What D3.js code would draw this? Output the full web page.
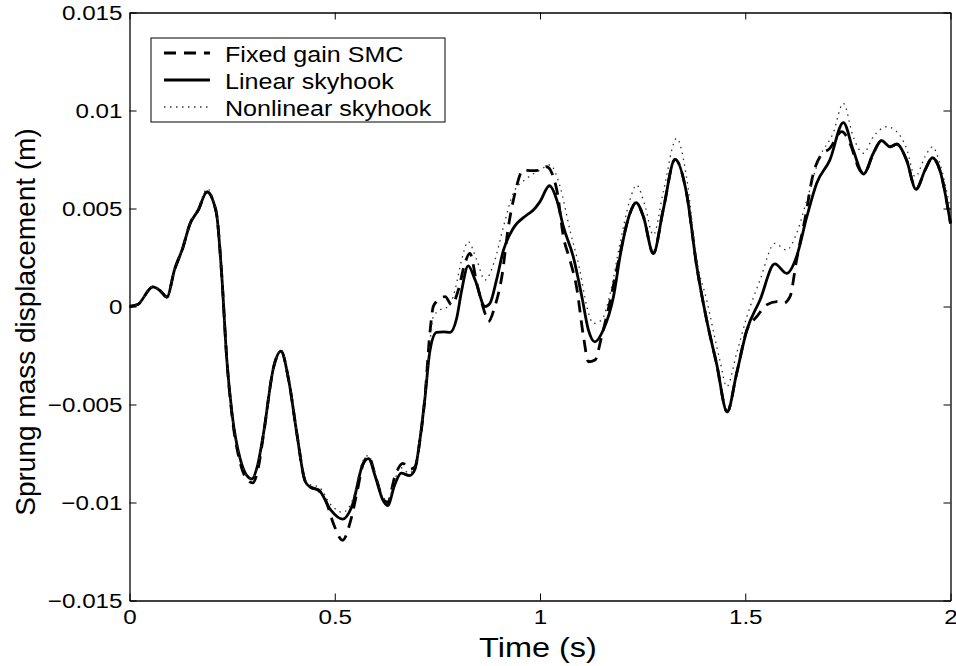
<!DOCTYPE html>
<html>
<head>
<meta charset="utf-8">
<script src="https://cdn.jsdelivr.net/npm/d3@7"></script>
<style>
  html, body { margin: 0; padding: 0; background: #fff; }
  svg { display: block; }
  text { font-family: "Liberation Sans", Arial, Helvetica, sans-serif; fill: #000; }
</style>
</head>
<body>
<svg id="chart" width="956" height="666"></svg>
<script>
// ---------------- data ----------------
const seriesNames = ["Fixed gain SMC", "Linear skyhook", "Nonlinear skyhook"];

const tLinear = [0, 0.02, 0.057, 0.075, 0.091, 0.11, 0.13, 0.147, 0.167, 0.189, 0.205, 0.213, 0.225, 0.237, 0.25, 0.27, 0.285, 0.298,
  0.312, 0.326, 0.351, 0.369, 0.388, 0.408, 0.428, 0.441, 0.461, 0.49, 0.519, 0.543, 0.568, 0.582, 0.6, 0.617, 0.629, 0.646,
  0.662, 0.682, 0.695, 0.707, 0.719, 0.732, 0.748, 0.765, 0.781, 0.797, 0.809, 0.825, 0.842, 0.866, 0.878, 0.894, 0.911,
  0.935, 0.968, 0.984, 1.0, 1.023, 1.041, 1.057, 1.081, 1.102, 1.118, 1.134, 1.154, 1.179, 1.197, 1.219, 1.234, 1.252,
  1.276, 1.3, 1.329, 1.357, 1.382, 1.406, 1.43, 1.456, 1.479, 1.504, 1.536, 1.572, 1.601, 1.625, 1.65, 1.674, 1.706, 1.739,
  1.763, 1.788, 1.812, 1.832, 1.853, 1.869, 1.893, 1.916, 1.938, 1.956, 1.974, 2.0];
const yLinear = [0, 0.0001, 0.001, 0.0008, 0.00048, 0.0019, 0.003, 0.0042, 0.0049, 0.00585, 0.0053, 0.0046, 0.0015, -0.0027, -0.0055, -0.0078, -0.0086, -0.0088,
  -0.0081, -0.00653, -0.0031, -0.00228, -0.00378, -0.00653, -0.00893, -0.00922, -0.00936, -0.01038, -0.01085, -0.01013, -0.00807, -0.00776, -0.00876, -0.00987, -0.01016, -0.0091,
  -0.0085, -0.00863, -0.00833, -0.00687, -0.00481, -0.00224, -0.00132, -0.00129, -0.00132, -0.0006, 0.0008, 0.00207, 0.00135, 0.0, 0.00016, 0.00135, 0.00288,
  0.00399, 0.00467, 0.00492, 0.00535, 0.00616, 0.00543, 0.00407, 0.00254, 0.0005, -0.0012, -0.0018, -0.0012, 0.0005, 0.0028, 0.00475, 0.0053, 0.00458,
  0.00271, 0.00492, 0.00751, 0.00578, 0.00203, -0.00069, -0.0029, -0.00537, -0.00341, -0.0012, 0.00033, 0.00217, 0.00169, 0.00254, 0.00458, 0.00629, 0.00747, 0.00938,
  0.00798, 0.00676, 0.00782, 0.00846, 0.00815, 0.00828, 0.00747, 0.00598, 0.00696, 0.00759, 0.00696, 0.00424];

const tFixed = [0, 0.02, 0.057, 0.075, 0.091, 0.11, 0.13, 0.147, 0.167, 0.189, 0.205, 0.213, 0.225, 0.237, 0.25, 0.27, 0.285, 0.3,
  0.314, 0.326, 0.351, 0.369, 0.388, 0.408, 0.428, 0.441, 0.461, 0.478, 0.498, 0.519, 0.539, 0.555, 0.568, 0.582, 0.6, 0.617, 0.629, 0.646,
  0.666, 0.682, 0.695, 0.707, 0.719, 0.732, 0.74, 0.748, 0.769, 0.785, 0.801, 0.817, 0.829, 0.846, 0.866, 0.874, 0.89, 0.907,
  0.923, 0.939, 0.959, 0.98, 1.0, 1.016, 1.041, 1.057, 1.073, 1.089, 1.106, 1.118, 1.134, 1.15, 1.17, 1.19, 1.219, 1.234, 1.252,
  1.276, 1.3, 1.329, 1.357, 1.382, 1.406, 1.43, 1.456, 1.479, 1.504, 1.528, 1.552, 1.577, 1.593, 1.609, 1.625, 1.645, 1.666, 1.682, 1.706, 1.735,
  1.755, 1.779, 1.79, 1.812, 1.832, 1.853, 1.869, 1.893, 1.916, 1.938, 1.956, 1.974, 2.0];
const yFixed = [0, 0.0001, 0.001, 0.0008, 0.00048, 0.0019, 0.003, 0.0042, 0.0049, 0.00585, 0.0053, 0.0046, 0.0015, -0.0027, -0.0056, -0.008, -0.0088, -0.0090,
  -0.0082, -0.0066, -0.0031, -0.00228, -0.00378, -0.00653, -0.0089, -0.0092, -0.0094, -0.0099, -0.01115, -0.01193, -0.0109, -0.0094, -0.0081, -0.00765, -0.0087, -0.0098, -0.0100, -0.0087,
  -0.0080, -0.0083, -0.0082, -0.0069, -0.0048, -0.0013, 0.0, 0.00025, 0.0005, 0.00008, 0.00084, 0.0022, 0.00271, 0.00118, -0.00035, -0.00078, 0.0, 0.00152,
  0.00407, 0.00578, 0.00696, 0.00693, 0.00696, 0.00713, 0.00594, 0.00356, 0.00237, 0.001, -0.00154, -0.00282, -0.00273, -0.00154, 0.0002, 0.0022, 0.00475, 0.0053, 0.00458,
  0.00271, 0.00492, 0.00751, 0.00578, 0.00203, -0.00069, -0.0029, -0.00537, -0.00341, -0.0012, -0.00052, 0.00008, 0.00025, 0.00016, 0.0005, 0.00237, 0.00441, 0.0068, 0.00764, 0.00807, 0.00892,
  0.00833, 0.00696, 0.0068, 0.00782, 0.00846, 0.00815, 0.00828, 0.00747, 0.00598, 0.00696, 0.00759, 0.00696, 0.00424];

const tNonlinear = [0, 0.02, 0.057, 0.075, 0.091, 0.11, 0.13, 0.147, 0.167, 0.189, 0.205, 0.213, 0.225, 0.237, 0.25, 0.27, 0.285, 0.298,
  0.312, 0.326, 0.351, 0.369, 0.388, 0.408, 0.428, 0.441, 0.461, 0.49, 0.519, 0.543, 0.568, 0.582, 0.6, 0.617, 0.629, 0.646,
  0.658, 0.682, 0.695, 0.707, 0.719, 0.732, 0.74, 0.756, 0.777, 0.793, 0.809, 0.825, 0.846, 0.866, 0.89, 0.911,
  0.935, 0.968, 1.0, 1.024, 1.049, 1.073, 1.097, 1.114, 1.13, 1.15, 1.171, 1.195, 1.219, 1.235, 1.255,
  1.276, 1.3, 1.333, 1.357, 1.382, 1.406, 1.438, 1.455, 1.479, 1.504, 1.536, 1.572, 1.601, 1.625, 1.65, 1.682, 1.714, 1.739,
  1.763, 1.788, 1.812, 1.845, 1.869, 1.893, 1.914, 1.938, 1.956, 1.974, 2.0];
const yNonlinear = [0, 0.0001, 0.001, 0.0008, 0.00048, 0.0019, 0.003, 0.0042, 0.005, 0.006, 0.0054, 0.0046, 0.0015, -0.0027, -0.0055, -0.0078, -0.0086, -0.0088,
  -0.0081, -0.00653, -0.0031, -0.0022, -0.0037, -0.0065, -0.0088, -0.0091, -0.0092, -0.0101, -0.0105, -0.0099, -0.0079, -0.0076, -0.0086, -0.0097, -0.0099, -0.0089,
  -0.0082, -0.0085, -0.0082, -0.0068, -0.0047, -0.0018, -0.00052, -0.00018, 0.0, 0.00084, 0.00237, 0.00331, 0.00237, 0.00135, 0.00237, 0.00407,
  0.00578, 0.00654, 0.00696, 0.00722, 0.00611, 0.0039, 0.00186, 0.0, -0.00086, -0.00069, 0.00067, 0.00322, 0.00543, 0.0062, 0.0052,
  0.00365, 0.0058, 0.00858, 0.0066, 0.00237, 0.00033, -0.00273, -0.00409, -0.00239, -0.00052, 0.00135, 0.00322, 0.00288, 0.00373, 0.00543, 0.00764, 0.00884, 0.01037,
  0.00866, 0.00782, 0.00866, 0.00917, 0.00892, 0.00807, 0.00662, 0.00764, 0.00815, 0.0073, 0.00492];

const xTicks = [0, 0.5, 1, 1.5, 2];
const xTickLabels = ["0", "0.5", "1", "1.5", "2"];
const yTicks = [-0.015, -0.01, -0.005, 0, 0.005, 0.01, 0.015];
const yTickLabels = ["\u22120.015", "\u22120.01", "\u22120.005", "0", "0.005", "0.01", "0.015"];
const xTitle = "Time (s)";
const yTitle = "Sprung mass displacement (m)";

// ---------------- layout ----------------
const svg = d3.select("#chart");
const L = 129.5, R = 950.5, T = 12.5, B = 600.5;

const x = d3.scaleLinear().domain([0, 2]).range([L, R]);
const y = d3.scaleLinear().domain([-0.015, 0.015]).range([B, T]);

function stretch(sel, k) {
  sel.each(function () {
    const len = this.getComputedTextLength();
    d3.select(this).attr("textLength", len * k).attr("lengthAdjust", "spacingAndGlyphs");
  });
}

svg.append("rect").attr("x", 0).attr("y", 0).attr("width", 956).attr("height", 666).attr("fill", "#fff");

// lines
const line = d3.line().x(d => x(d[0])).y(d => y(d[1])).curve(d3.curveMonotoneX);
const zip = (a, b) => a.map((v, i) => [v, b[i]]);

const plot = svg.append("g");
plot.append("path").datum(zip(tFixed, yFixed)).attr("d", line)
  .attr("fill", "none").attr("stroke", "#000").attr("stroke-width", 2.8).attr("stroke-dasharray", "12,8");
plot.append("path").datum(zip(tLinear, yLinear)).attr("d", line)
  .attr("fill", "none").attr("stroke", "#000").attr("stroke-width", 2.8);
plot.append("path").datum(zip(tNonlinear, yNonlinear)).attr("d", line)
  .attr("fill", "none").attr("stroke", "#333").attr("stroke-width", 1.3).attr("stroke-dasharray", "1.5,4.5");

// axes
const fmtY = d => yTickLabels[yTicks.indexOf(d)];
const fmtX = d => xTickLabels[xTicks.indexOf(d)];
const axL = svg.append("g").attr("transform", `translate(${L},0)`)
  .call(d3.axisLeft(y).tickValues(yTicks).tickFormat(fmtY).tickSizeInner(-7).tickSizeOuter(0).tickPadding(7));
const axB = svg.append("g").attr("transform", `translate(0,${B})`)
  .call(d3.axisBottom(x).tickValues(xTicks).tickFormat(fmtX).tickSizeInner(-7).tickSizeOuter(0).tickPadding(8));
svg.append("g").attr("transform", `translate(${R},0)`)
  .call(d3.axisRight(y).tickValues(yTicks).tickFormat("").tickSizeInner(-7).tickSizeOuter(0));
svg.append("g").attr("transform", `translate(0,${T})`)
  .call(d3.axisTop(x).tickValues(xTicks).tickFormat("").tickSizeInner(-7).tickSizeOuter(0));

svg.selectAll(".domain").attr("stroke", "#000").attr("stroke-width", 1.3);
svg.selectAll(".tick line").attr("stroke", "#000").attr("stroke-width", 1);
svg.selectAll(".tick text").attr("font-family", "Liberation Sans, Arial, sans-serif").attr("font-size", 20.5).attr("fill", "#000");
axL.selectAll(".tick text").attr("dy", "0.36em");
axB.selectAll(".tick text").attr("dy", "0.76em");
stretch(svg.selectAll(".tick text"), 1.18);

// axis titles
const xt = svg.append("text").attr("x", (L + R) / 2 - 2).attr("y", 657)
  .attr("text-anchor", "middle").attr("font-size", 27.5).text(xTitle);
stretch(xt, 1.18);
svg.append("text").attr("transform", `translate(35,322) rotate(-90)`)
  .attr("text-anchor", "middle").attr("font-size", 28).text(yTitle);

// legend
const lg = svg.append("g");
lg.append("rect").attr("x", 151).attr("y", 38).attr("width", 294).attr("height", 84)
  .attr("fill", "#fff").attr("stroke", "#000").attr("stroke-width", 1);
const legStyles = [
  { w: 2.8, dash: "12,8", col: "#000" },
  { w: 2.8, dash: null, col: "#000" },
  { w: 1.3, dash: "1.5,4.5", col: "#333" }
];
seriesNames.forEach((name, i) => {
  const yy = 53 + i * 27;
  const s = legStyles[i];
  const ln = lg.append("line").attr("x1", 164).attr("x2", 210).attr("y1", yy).attr("y2", yy)
    .attr("stroke", s.col).attr("stroke-width", s.w);
  if (s.dash) ln.attr("stroke-dasharray", s.dash);
  const tx = lg.append("text").attr("x", 225).attr("y", yy + 8.5).attr("font-size", 22).text(name);
  stretch(tx, 1.14);
});
</script>
</body>
</html>
